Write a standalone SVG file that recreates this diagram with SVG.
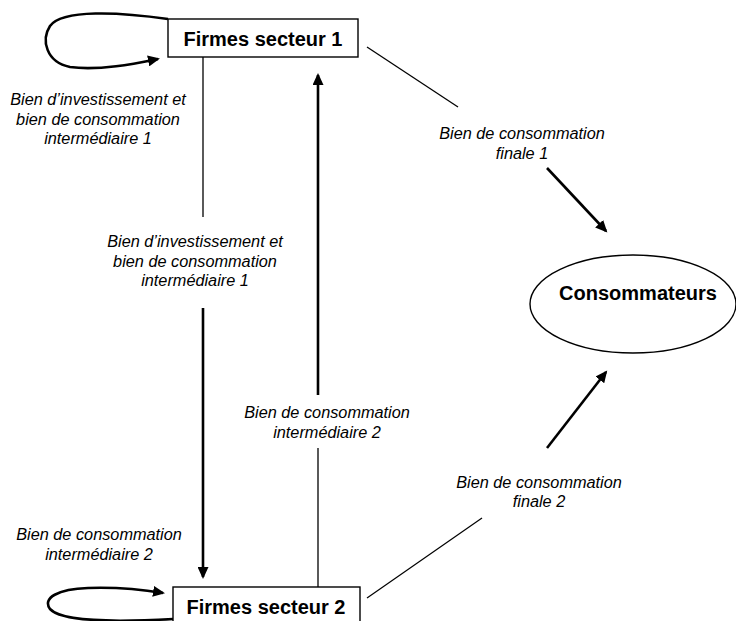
<svg xmlns="http://www.w3.org/2000/svg" width="736" height="621" viewBox="0 0 736 621">
<style>
.box{fill:#fff;stroke:#000;stroke-width:1.4}
.node{font-family:"Liberation Sans",Arial,sans-serif;font-weight:bold;font-size:20px;fill:#000;text-anchor:middle}
.lbl{font-family:"Liberation Sans",Arial,sans-serif;font-style:italic;font-size:16.3px;fill:#000;text-anchor:middle}
.thin{fill:none;stroke:#000;stroke-width:1.3}
.thick{fill:none;stroke:#000;stroke-width:2.6}
.arr{marker-end:url(#ah)}
</style>
<defs>
<marker id="ah" markerUnits="userSpaceOnUse" markerWidth="13" markerHeight="11" refX="10" refY="5.5" orient="auto">
<path d="M0,0 L12,5.5 L0,11 z" fill="#000"/>
</marker>
</defs>
<rect width="736" height="621" fill="#fff"/>
<g id="connectors">
<path class="thick arr" d="M168,19 C120,12 62,9 50,26 C41,40 46,62 70,67 C100,71 138,63 158,59"/>
<path class="thick arr" d="M173,619 C120,622 62,622 50,609 C42,598 58,589 88,588 C118,587 145,590 163,593"/>
<line class="thin" x1="203" y1="57" x2="203" y2="217"/>
<line class="thick arr" x1="203" y1="308" x2="203" y2="577"/>
<line class="thin" x1="318" y1="587" x2="318" y2="448"/>
<line class="thick arr" x1="318" y1="395" x2="318" y2="75"/>
<line class="thin" x1="367" y1="47" x2="458" y2="107"/>
<line class="thick arr" x1="547" y1="168" x2="606" y2="231"/>
<line class="thin" x1="367" y1="598" x2="482" y2="518"/>
<line class="thick arr" x1="547" y1="448" x2="606" y2="372"/>
<text class="lbl"><tspan x="98" y="105">Bien d’investissement et</tspan><tspan x="98" y="124.5">bien de consommation</tspan><tspan x="98" y="144">intermédiaire 1</tspan></text>
<text class="lbl"><tspan x="195" y="247">Bien d’investissement et</tspan><tspan x="195" y="266.5">bien de consommation</tspan><tspan x="195" y="286">intermédiaire 1</tspan></text>
<text class="lbl"><tspan x="327" y="418">Bien de consommation</tspan><tspan x="327" y="438">intermédiaire 2</tspan></text>
<text class="lbl"><tspan x="522" y="139">Bien de consommation</tspan><tspan x="522" y="159">finale 1</tspan></text>
<text class="lbl"><tspan x="539" y="488">Bien de consommation</tspan><tspan x="539" y="507">finale 2</tspan></text>
<text class="lbl"><tspan x="99" y="540">Bien de consommation</tspan><tspan x="99" y="560">intermédiaire 2</tspan></text>
</g>
<g id="firmes1">
<rect class="box" x="168" y="19" width="190" height="38"/>
<text class="node" x="263" y="46">Firmes secteur 1</text>
</g>
<g id="firmes2">
<rect class="box" x="173" y="587" width="187" height="38"/>
<text class="node" x="266" y="614">Firmes secteur 2</text>
</g>
<g id="consommateurs">
<ellipse cx="633" cy="304" rx="103" ry="49" fill="#fff" stroke="#000" stroke-width="1.4"/>
<text class="node" x="638" y="300">Consommateurs</text>
</g>
</svg>
